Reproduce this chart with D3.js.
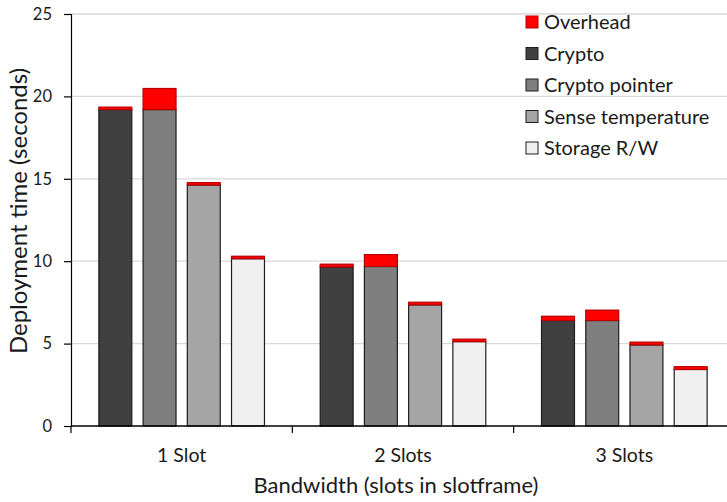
<!DOCTYPE html>
<html><head><meta charset="utf-8">
<script src="https://cdn.jsdelivr.net/npm/d3@7"></script>
<style>body{margin:0;background:#fff}svg{display:block}text{font-family:Lato,"Open Sans",sans-serif;fill:#1a1a1a}</style>
</head><body>
<svg id="c" width="727" height="502"></svg>
<script>
const categories = ["1 Slot", "2 Slots", "3 Slots"];
const seriesNames = ["Crypto", "Crypto pointer", "Sense temperature", "Storage R/W"];
const crypto = [19.2, 9.65, 6.4];
const cryptoPointer = [19.2, 9.68, 6.4];
const senseTemperature = [14.62, 7.35, 4.92];
const storageRW = [10.15, 5.12, 3.43];
const overheadCrypto = [0.15, 0.17, 0.26];
const overheadCryptoPointer = [1.28, 0.72, 0.63];
const overheadSense = [0.15, 0.16, 0.17];
const overheadStorage = [0.15, 0.15, 0.17];
const yTicks = [0, 5, 10, 15, 20, 25];
const legendNames = ["Overhead", "Crypto", "Crypto pointer", "Sense temperature", "Storage R/W"];

const baseVals = [crypto, cryptoPointer, senseTemperature, storageRW];
const overVals = [overheadCrypto, overheadCryptoPointer, overheadSense, overheadStorage];
const colors = ["#404040", "#7f7f7f", "#a5a5a5", "#f0f0f0"];
const red = "#ff0000";

const svg = d3.select("#c");
const x0 = d3.scaleBand().domain(categories).range([71, 735]).paddingInner(0).paddingOuter(0);
const x1 = d3.scaleBand().domain(seriesNames).range([0, x0.bandwidth()]).paddingInner(0.255).paddingOuter(0.63);
const y = d3.scaleLinear().domain([0, 25]).range([426, 14]);

// gridlines
svg.append("g").selectAll("line").data(yTicks.filter(d => d > 0)).join("line")
  .attr("x1", 71).attr("x2", 727).attr("y1", d => y(d)).attr("y2", d => y(d))
  .attr("stroke", "#d9d9d9").attr("stroke-width", 1.3);

// bars
const rows = [];
categories.forEach((c, i) => seriesNames.forEach((s, j) => rows.push({c, s, j, base: baseVals[j][i], over: overVals[j][i]})));
const g = svg.append("g");
g.selectAll("rect.base").data(rows).join("rect").attr("class", "base")
  .attr("x", d => x0(d.c) + x1(d.s)).attr("width", x1.bandwidth())
  .attr("y", d => y(d.base)).attr("height", d => y(0) - y(d.base))
  .attr("fill", d => colors[d.j]).attr("stroke", "#1e1e1e").attr("stroke-width", 1.2);
g.selectAll("rect.over").data(rows).join("rect").attr("class", "over")
  .attr("x", d => x0(d.c) + x1(d.s)).attr("width", x1.bandwidth())
  .attr("y", d => y(d.base + d.over)).attr("height", d => y(d.base) - y(d.base + d.over))
  .attr("fill", red).attr("stroke", "#b80000").attr("stroke-width", 1.2);

// y axis
const ya = svg.append("g").attr("transform", "translate(71,0)")
  .call(d3.axisLeft(y).tickValues(yTicks).tickSize(7).tickPadding(12));
ya.select(".domain").attr("stroke", "#000").attr("stroke-width", 1.2);
ya.selectAll(".tick line").attr("stroke", "#000").attr("stroke-width", 1.2);
ya.selectAll(".tick text").style("font-size", "16.5px").style("font-family", "Lato").attr("fill", "#1a1a1a");

// x axis
const xa = svg.append("g").attr("transform", "translate(0,426)");
xa.append("line").attr("x1", 71).attr("x2", 727).attr("y1", 0).attr("y2", 0).attr("stroke", "#000").attr("stroke-width", 1.3);
const bounds = categories.map(c => x0(c)).concat([x0.range()[1]]);
xa.selectAll("line.t").data(bounds).join("line").attr("class", "t")
  .attr("x1", d => d).attr("x2", d => d).attr("y1", 0).attr("y2", 7).attr("stroke", "#000").attr("stroke-width", 1.2);
xa.selectAll("text").data(categories).join("text")
  .attr("x", d => x0(d) + x0.bandwidth() / 2).attr("y", 36).attr("text-anchor", "middle")
  .style("font-size", "19.5px").text(d => d);

// titles
svg.append("text").attr("x", 396).attr("y", 493).attr("text-anchor", "middle").style("font-size", "22px")
  .text("Bandwidth (slots in slotframe)");
svg.append("text").attr("transform", "translate(27,211) rotate(-90)").attr("text-anchor", "middle").style("font-size", "24px")
  .text("Deployment time (seconds)");

// legend
const legColors = [red].concat(colors);
const lg = svg.append("g").selectAll("g").data(legendNames).join("g")
  .attr("transform", (d, i) => `translate(526,${22 + i * 31.5})`);
lg.append("rect").attr("x", 0).attr("y", -6).attr("width", 12).attr("height", 12)
  .attr("fill", (d, i) => legColors[i]).attr("stroke", (d, i) => i === 0 ? "#c00000" : "#1e1e1e").attr("stroke-width", 1);
lg.append("text").attr("x", 18).attr("y", 0).attr("dy", "0.35em").style("font-size", "20px").text(d => d);
</script>
</body></html>
